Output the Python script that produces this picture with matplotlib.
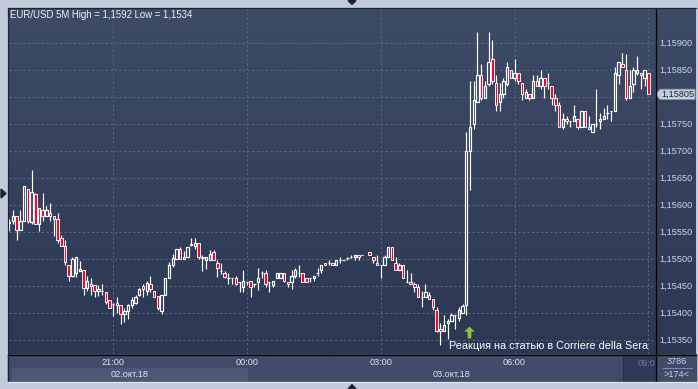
import matplotlib.pyplot as plt
import numpy as np
import pandas as pd
from matplotlib.colors import LinearSegmentedColormap
from matplotlib.patches import Rectangle, Polygon
from matplotlib.lines import Line2D
from matplotlib.path import Path

nan = np.nan

# EUR/USD 5M candles, 02.10.2018 18:40 .. 03.10.2018 09:00
start_time = '2018-10-02 18:40'
opens = [1.15566, 1.15570, 1.15580, 1.15554, 1.15571, 1.15630, 1.15568, 1.15620, 1.15565, 1.15590, 1.15579, 1.15586,
         1.15580, 1.15574, 1.15539, 1.15525, 1.15489, 1.15469, 1.15474, 1.15478, 1.15480, 1.15446, 1.15454, 1.15451,
         1.15440, 1.15440, 1.15438, 1.15424, 1.15417, 1.15419, 1.15415, 1.15398, 1.15404, 1.15415, 1.15419, 1.15433,
         1.15450, 1.15440, 1.15454, 1.15440, 1.15431, 1.15404, 1.15433, 1.15465, 1.15488, 1.15500, 1.15519, 1.15500,
         1.15503, 1.15526, 1.15525, 1.15530, 1.15503, 1.15499, 1.15499, 1.15513, 1.15493, 1.15478, 1.15474, 1.15464,
         1.15464, 1.15464, 1.15458, 1.15449, 1.15458, 1.15460, 1.15454, 1.15458, 1.15474, 1.15474, 1.15458, 1.15452,
         1.15464, 1.15464, 1.15474, 1.15458, 1.15458, 1.15469, 1.15474, 1.15474, 1.15464, 1.15464, 1.15464, 1.15474,
         1.15479, 1.15493, 1.15493, 1.15493, 1.15489, 1.15499, 1.15499, 1.15502, 1.15503, 1.15503, 1.15508, 1.15508,
         nan, 1.15513, 1.15503, 1.15493, 1.15489, 1.15489, 1.15503, 1.15523, 1.15493, 1.15479, 1.15489, 1.15458,
         1.15458, 1.15454, 1.15449, 1.15430, 1.15430, 1.15434, 1.15425, 1.15406, 1.15371, 1.15367, 1.15382, 1.15386,
         1.15396, 1.15391, 1.15400, 1.15415, 1.15700, 1.15750, 1.15790, 1.15841, 1.15799, 1.15825, 1.15870, 1.15826,
         1.15790, 1.15806, 1.15825, 1.15850, 1.15835, 1.15845, 1.15826, 1.15799, 1.15806, 1.15799, 1.15830, 1.15820,
         1.15835, 1.15826, 1.15820, 1.15799, 1.15785, 1.15745, 1.15759, 1.15755, 1.15755, 1.15759, 1.15745, 1.15775,
         1.15745, 1.15735, 1.15750, 1.15755, 1.15759, 1.15770, 1.15775, 1.15775, 1.15840, 1.15861, 1.15850, 1.15799,
         1.15825, 1.15845, 1.15845, 1.15835, 1.15845]
highs = [1.15574, 1.15590, 1.15580, 1.15590, 1.15636, 1.15630, 1.15665, 1.15623, 1.15594, 1.15622, 1.15599, 1.15604,
         1.15580, 1.15586, 1.15544, 1.15536, 1.15489, 1.15503, 1.15503, 1.15497, 1.15480, 1.15468, 1.15465, 1.15451,
         1.15451, 1.15454, 1.15438, 1.15424, 1.15418, 1.15429, 1.15415, 1.15409, 1.15417, 1.15429, 1.15434, 1.15446,
         1.15454, 1.15459, 1.15469, 1.15440, 1.15431, 1.15433, 1.15465, 1.15495, 1.15509, 1.15519, 1.15522, 1.15515,
         1.15523, 1.15539, 1.15539, 1.15530, 1.15508, 1.15503, 1.15517, 1.15517, 1.15499, 1.15493, 1.15478, 1.15474,
         1.15464, 1.15469, 1.15458, 1.15480, 1.15458, 1.15460, 1.15454, 1.15483, 1.15478, 1.15480, 1.15458, 1.15460,
         1.15474, 1.15474, 1.15474, 1.15458, 1.15479, 1.15484, 1.15489, 1.15474, 1.15464, 1.15464, 1.15469, 1.15484,
         1.15489, 1.15493, 1.15499, 1.15493, 1.15499, 1.15503, 1.15499, 1.15503, 1.15508, 1.15508, 1.15508, 1.15508,
         nan, 1.15513, 1.15503, 1.15508, 1.15489, 1.15508, 1.15523, 1.15523, 1.15503, 1.15493, 1.15489, 1.15479,
         1.15474, 1.15458, 1.15454, 1.15440, 1.15454, 1.15439, 1.15425, 1.15411, 1.15382, 1.15396, 1.15389, 1.15400,
         1.15396, 1.15411, 1.15417, 1.15736, 1.15830, 1.15830, 1.15921, 1.15861, 1.15830, 1.15921, 1.15906, 1.15841,
         1.15826, 1.15835, 1.15865, 1.15850, 1.15870, 1.15845, 1.15826, 1.15815, 1.15806, 1.15841, 1.15841, 1.15850,
         1.15835, 1.15845, 1.15820, 1.15806, 1.15790, 1.15770, 1.15764, 1.15755, 1.15785, 1.15759, 1.15775, 1.15775,
         1.15764, 1.15750, 1.15815, 1.15770, 1.15780, 1.15785, 1.15775, 1.15855, 1.15865, 1.15881, 1.15880, 1.15850,
         1.15855, 1.15876, 1.15845, 1.15850, 1.15845]
lows = [1.15552, 1.15565, 1.15535, 1.15554, 1.15571, 1.15566, 1.15564, 1.15564, 1.15552, 1.15571, 1.15579, 1.15571,
        1.15543, 1.15529, 1.15525, 1.15489, 1.15459, 1.15467, 1.15467, 1.15478, 1.15433, 1.15441, 1.15433, 1.15429,
        1.15431, 1.15434, 1.15417, 1.15409, 1.15395, 1.15400, 1.15380, 1.15383, 1.15389, 1.15410, 1.15417, 1.15432,
        1.15429, 1.15434, 1.15438, 1.15429, 1.15406, 1.15398, 1.15433, 1.15465, 1.15485, 1.15500, 1.15500, 1.15500,
        1.15503, 1.15524, 1.15519, 1.15500, 1.15478, 1.15481, 1.15499, 1.15499, 1.15467, 1.15472, 1.15464, 1.15454,
        1.15454, 1.15452, 1.15439, 1.15439, 1.15452, 1.15430, 1.15449, 1.15443, 1.15464, 1.15449, 1.15439, 1.15449,
        1.15464, 1.15464, 1.15458, 1.15449, 1.15445, 1.15464, 1.15467, 1.15458, 1.15458, 1.15458, 1.15460, 1.15469,
        1.15474, 1.15489, 1.15489, 1.15489, 1.15489, 1.15493, 1.15499, 1.15499, 1.15501, 1.15499, 1.15499, 1.15508,
        nan, 1.15508, 1.15493, 1.15489, 1.15464, 1.15489, 1.15503, 1.15499, 1.15479, 1.15479, 1.15464, 1.15458,
        1.15454, 1.15439, 1.15430, 1.15411, 1.15430, 1.15425, 1.15406, 1.15364, 1.15341, 1.15367, 1.15352, 1.15386,
        1.15370, 1.15385, 1.15400, 1.15396, 1.15628, 1.15741, 1.15790, 1.15795, 1.15799, 1.15820, 1.15825, 1.15775,
        1.15775, 1.15799, 1.15820, 1.15835, 1.15830, 1.15825, 1.15795, 1.15799, 1.15795, 1.15799, 1.15820, 1.15815,
        1.15799, 1.15815, 1.15785, 1.15775, 1.15745, 1.15741, 1.15750, 1.15745, 1.15755, 1.15741, 1.15745, 1.15744,
        1.15741, 1.15735, 1.15745, 1.15741, 1.15759, 1.15759, 1.15755, 1.15775, 1.15825, 1.15855, 1.15795, 1.15799,
        1.15810, 1.15840, 1.15815, 1.15820, 1.15805]
closes = [1.15568, 1.15580, 1.15554, 1.15571, 1.15636, 1.15571, 1.15625, 1.15565, 1.15594, 1.15580, 1.15590, 1.15580,
          1.15574, 1.15535, 1.15525, 1.15495, 1.15469, 1.15500, 1.15503, 1.15481, 1.15446, 1.15460, 1.15450, 1.15440,
          1.15444, 1.15440, 1.15420, 1.15409, 1.15417, 1.15415, 1.15398, 1.15404, 1.15415, 1.15424, 1.15430, 1.15444,
          1.15444, 1.15455, 1.15444, 1.15430, 1.15409, 1.15433, 1.15465, 1.15489, 1.15501, 1.15519, 1.15500, 1.15504,
          1.15523, 1.15527, 1.15530, 1.15504, 1.15502, 1.15503, 1.15509, 1.15499, 1.15483, 1.15478, 1.15467, 1.15464,
          1.15464, 1.15454, 1.15458, 1.15460, 1.15458, 1.15449, 1.15454, 1.15464, 1.15474, 1.15454, 1.15458, 1.15460,
          1.15474, 1.15474, 1.15460, 1.15454, 1.15469, 1.15479, 1.15474, 1.15458, 1.15458, 1.15464, 1.15469, 1.15474,
          1.15489, 1.15489, 1.15493, 1.15489, 1.15499, 1.15499, 1.15499, 1.15502, 1.15503, 1.15508, 1.15503, 1.15508,
          nan, 1.15508, 1.15499, 1.15489, 1.15489, 1.15503, 1.15523, 1.15499, 1.15479, 1.15489, 1.15464, 1.15458,
          1.15454, 1.15449, 1.15430, 1.15430, 1.15439, 1.15425, 1.15411, 1.15367, 1.15367, 1.15377, 1.15386, 1.15396,
          1.15396, 1.15406, 1.15412, 1.15700, 1.15745, 1.15795, 1.15841, 1.15799, 1.15820, 1.15865, 1.15829, 1.15785,
          1.15806, 1.15830, 1.15855, 1.15835, 1.15845, 1.15830, 1.15806, 1.15810, 1.15799, 1.15830, 1.15820, 1.15835,
          1.15820, 1.15826, 1.15799, 1.15785, 1.15745, 1.15759, 1.15755, 1.15755, 1.15764, 1.15745, 1.15775, 1.15745,
          1.15741, 1.15750, 1.15750, 1.15759, 1.15764, 1.15770, 1.15775, 1.15845, 1.15865, 1.15855, 1.15799, 1.15820,
          1.15850, 1.15850, 1.15841, 1.15850, 1.15805]

price_ticks = [1.1535, 1.1540, 1.1545, 1.1550, 1.1555, 1.1560, 1.1565, 1.1570, 1.1575, 1.1580, 1.1585, 1.1590]
last_price = 1.15805
news_index = 123
news_text = 'Реакция на статью в Corriere della Sera'
title_text = 'EUR/USD 5M High = 1,1592 Low = 1,1534'
bars_total = '3786'
bars_shown = '>174<'
months_ru = {10: 'окт'}

# colours
bg_top, bg_bottom = '#3e4b66', '#2c3853'
strip_col = '#3f4c67'
band_col = '#4b5976'
grid_col = '#56647f'
red = '#ee0a2c'
axis_txt = '#c8d5ec'
plt.rcParams['font.family'] = ['Liberation Sans', 'DejaVu Sans']

W, H = 698, 389
def fx(x):
    return x / W
def fy(y):
    return 1 - y / H

fig = plt.figure(figsize=(6.98, 3.89), dpi=100, facecolor='#c0cad8')

# gradient panel behind chart + price scale
bg = fig.add_axes([fx(8), fy(354), fx(696) - fx(8), fy(8) - fy(354)])
grad = np.linspace(0, 1, 256).reshape(-1, 1)
bg.imshow(grad, aspect='auto', extent=[0, 1, 0, 1], origin='upper',
          cmap=LinearSegmentedColormap.from_list('bg', [bg_top, bg_bottom]))
bg.axis('off')

# time strip
fig.add_artist(Rectangle((fx(8), fy(381)), fx(696) - fx(8), fy(354) - fy(381),
                         transform=fig.transFigure, color=strip_col, zorder=0))

o = np.array(opens); h = np.array(highs); l = np.array(lows); c = np.array(closes)
n = len(o)
x = np.arange(n)
times = pd.date_range(start_time, periods=n, freq='5min')

ax = fig.add_axes([fx(8.5), fy(354), fx(655) - fx(8.5), fy(8) - fy(354)])
ax.patch.set_alpha(0)
xmin, xmax = -0.2, 173.8
ymin, ymax = 1.15324, 1.15965
ax.set_xlim(xmin, xmax)
ax.set_ylim(ymin, ymax)
for s in ax.spines.values():
    s.set_visible(False)
ax.set_xticks([]); ax.set_yticks([])

# grid
for p in price_ticks:
    ax.axhline(p, color=grid_col, lw=0.75, ls=(0, (2.2, 2.2)), zorder=1)
tick_idx = [i for i, t in enumerate(times) if t.minute == 0 and t.hour % 3 == 0]
for i in tick_idx:
    ax.axvline(i, color=grid_col, lw=0.75, ls=(0, (2.2, 2.2)), zorder=1)

# candles
ok = ~np.isnan(o)
top = np.maximum(o, c); bot = np.minimum(o, c)
ax.vlines(x[ok], top[ok], h[ok], color='white', lw=0.85, zorder=3)
ax.vlines(x[ok], l[ok], bot[ok], color='white', lw=0.85, zorder=3)
up = ok & (c >= o)
dn = ok & (c < o)
ax.bar(x[up], (c - o)[up], bottom=o[up], width=0.62, facecolor='none',
       edgecolor='white', lw=0.85, zorder=4)
ax.bar(x[dn], (o - c)[dn], bottom=c[dn], width=0.7, facecolor=red,
       edgecolor='white', lw=0.65, zorder=4)

# price scale (the label under the last-price tag is hidden)
ytr = ax.get_yaxis_transform()
for p in price_ticks:
    if abs(p - last_price) < 0.0002:
        continue
    ax.text(1.007, p, f'{p:.5f}'.replace('.', ','), transform=ytr, ha='left',
            va='center', fontsize=6.6, color=axis_txt, clip_on=False)
dy = 5.2 * (ymax - ymin) / 346
tag = Polygon([(1.0016, last_price), (1.0077, last_price + dy), (1.062, last_price + dy),
               (1.062, last_price - dy), (1.0077, last_price - dy)], closed=True,
              transform=ytr, facecolor='#c7cfdb', edgecolor='#8792a8', lw=0.6,
              clip_on=False, zorder=6)
ax.add_patch(tag)
ax.text(1.0095, last_price, f'{last_price:.5f}'.replace('.', ','), transform=ytr,
        ha='left', va='center', fontsize=6.6, color='#1c2536', zorder=7, clip_on=False)

# time axis
xtr = ax.get_xaxis_transform()
for i in tick_idx[:-1]:
    ax.text(i, -0.026, times[i].strftime('%H:%M'), transform=xtr, ha='center',
            va='center', fontsize=6.6, color='#dce4ef', clip_on=False)
midnight = tick_idx[1]
band_x0 = xmin + 0.95
ax.add_patch(Rectangle((band_x0, -0.078), midnight - band_x0, 0.0375, transform=xtr,
                       color=band_col, clip_on=False, zorder=0))
day1, day2 = times[0], times[midnight]
for d, x0, x1 in [(day1, band_x0, midnight), (day2, midnight, xmax)]:
    ax.text((x0 + x1) / 2, -0.058, f'{d.day:02d}.{months_ru[d.month]}.{d.year % 100}',
            transform=xtr, ha='center', va='center', fontsize=6.6,
            color='#dce4ef', clip_on=False)
fig.add_artist(Rectangle((fx(623), fy(381)), fx(655) - fx(623), fy(355) - fy(381),
                         transform=fig.transFigure, color='#2e3a55', zorder=1))
fig.add_artist(Line2D([fx(623)] * 2, [fy(381), fy(355)], color='#27324a', lw=0.8))
fig.text(fx(655), fy(363), times[tick_idx[-1]].strftime('%H:%M')[:4], ha='right',
         va='center', fontsize=6.6, color='#6d7c98')

# bar counter box
fig.text(fx(677), fy(362), bars_total, ha='center', va='center', fontsize=6.6, color=axis_txt)
fig.add_artist(Line2D([fx(663), fx(692)], [fy(367.5)] * 2, color='#8a98b4', lw=0.6))
fig.text(fx(677), fy(374.5), bars_shown, ha='center', va='center', fontsize=6.6, color=axis_txt)

# borders
fig.add_artist(Line2D([fx(655.5)] * 2, [fy(8), fy(381)], color='black', lw=0.9))
fig.add_artist(Line2D([fx(8), fx(696)], [fy(354.5)] * 2, color='black', lw=0.9))
fig.add_artist(Line2D([fx(8)] * 2, [fy(8), fy(381)], color='#1c2433', lw=0.9))
fig.add_artist(Line2D([fx(8), fx(696)], [fy(8)] * 2, color='#1c2433', lw=0.9))
fig.add_artist(Line2D([fx(8), fx(696)], [fy(381.5)] * 2, color='#e2e7ef', lw=0.9))

# small scroll markers
tri = '#1d2535'
fig.add_artist(Polygon([(fx(1), fy(189)), (fx(6), fy(193.5)), (fx(1), fy(198))],
                       closed=True, transform=fig.transFigure, color=tri))
fig.add_artist(Polygon([(fx(348), fy(0.5)), (fx(356), fy(0.5)), (fx(352), fy(4.5))],
                       closed=True, transform=fig.transFigure, color=tri))
fig.add_artist(Polygon([(fx(348), fy(389)), (fx(356), fy(389)), (fx(352), fy(384.5))],
                       closed=True, transform=fig.transFigure, color=tri))

# title
fig.text(fx(10), fy(15), title_text, ha='left', va='center', fontsize=6.9, color='#eef2f8')

# news marker: thick up-arrow
arrow = Path([(0, 1), (0.9, 0.15), (0.32, 0.15), (0.32, -1), (-0.32, -1),
              (-0.32, 0.15), (-0.9, 0.15), (0, 1)],
             [Path.MOVETO] + [Path.LINETO] * 6 + [Path.CLOSEPOLY])
ax.plot([news_index + 0.75], [0.065], transform=xtr, marker=arrow, ms=8.5,
        color='#86c440', mec='none', clip_on=False, zorder=8)
ax.text(news_index - 4.6, 0.024, news_text, transform=xtr, ha='left', va='center',
        fontsize=7.8, color='white', zorder=8)

fig.savefig('out.png', dpi=100, facecolor=fig.get_facecolor())
